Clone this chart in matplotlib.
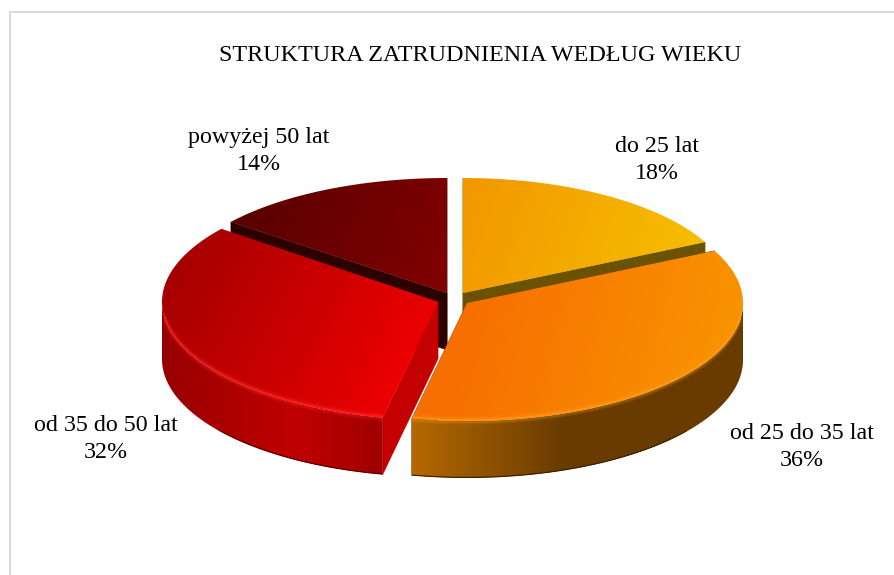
import numpy as np
import matplotlib
matplotlib.use("Agg")
import matplotlib.pyplot as plt
from matplotlib.colors import LinearSegmentedColormap
from matplotlib.patches import Polygon

plt.rcParams['font.family'] = ['Liberation Serif', 'DejaVu Serif']

title = 'STRUKTURA ZATRUDNIENIA WEDŁUG WIEKU'
categories = ['do 25 lat', 'od 25 do 35 lat', 'od 35 do 50 lat', 'powyżej 50 lat']
shares = [17.7, 35.51, 32.4, 14.39]

# layout per slice, in pixels of the figure (centre x, centre y, radius x, radius y)
centres = [(463, 293), (467, 303), (438, 302), (447, 293)]
radii = [(270, 115), (276, 118), (276, 118), (275, 115)]
label_pos = [(657, 160), (802, 447), (106, 439), (259, 151)]
depth = 57

# colours: top gradient (direction + stops), side gradient stops, cut face, rim, bottom line
top_dirs = [((470, 180), (700, 250)), ((470, 300), (720, 360)),
            ((170, 260), (430, 390)), ((240, 215), (445, 295))]
top_cols = [['#f29800', '#f6be00'], ['#f76f00', '#f99200'],
            ['#a40000', '#f40000'], ['#5a0000', '#820000']]
side_stops = [[(0, '#6b5200'), (1, '#6b5200')],
              [(0, '#b56800'), (0.45, '#6a3c00'), (1, '#693b00')],
              [(0, '#980000'), (0.6, '#c00000'), (1, '#a00000')],
              [(0, '#2d0000'), (1, '#2d0000')]]
face_cols = ['#6b5200', '#6a3c00', '#c40000', '#2d0000']
rim_cols = ['#ffc000', '#ffa020', '#ff2a2a', '#900000']
edge_cols = ['#4a3800', '#3a2000', '#5a0000', '#200000']


def point(i, deg):
    a = np.radians(deg)
    cx, cy = centres[i]
    rx, ry = radii[i]
    return cx + rx * np.sin(a), cy - ry * np.cos(a)


def gradient_fill(ax, pts, start, end, stops, zorder):
    pts = np.asarray(pts)
    x0, y0 = np.floor(pts.min(axis=0))
    x1, y1 = np.ceil(pts.max(axis=0))
    xx, yy = np.meshgrid(np.arange(x0, x1 + 1), np.arange(y0, y1 + 1))
    d = np.array(end, float) - np.array(start, float)
    t = ((xx - start[0]) * d[0] + (yy - start[1]) * d[1]) / (d @ d)
    cmap = LinearSegmentedColormap.from_list('g', stops)
    im = ax.imshow(np.clip(t, 0, 1), cmap=cmap, vmin=0, vmax=1, origin='upper',
                   extent=(x0 - .5, x1 + .5, y1 + .5, y0 - .5), aspect='auto',
                   zorder=zorder, interpolation='bilinear')
    clip = Polygon(pts, closed=True, transform=ax.transData, fc='none', ec='none')
    ax.add_patch(clip)
    im.set_clip_path(clip)
    return clip


fig = plt.figure(figsize=(8.94, 5.75), dpi=100)
ax = fig.add_axes([0, 0, 1, 1])

fracs = np.array(shares) / sum(shares) * 360
starts = np.concatenate([[0], np.cumsum(fracs)[:-1]])

# paint back to front
z = 2
for i in [3, 0, 2, 1]:
    a0, a1 = starts[i], starts[i] + fracs[i]
    angles = np.linspace(a0, a1, 200)
    cx, cy = centres[i]
    arc = np.array([point(i, a) for a in angles])

    # cut faces
    for edge in (arc[0], arc[-1]):
        ax.add_patch(Polygon([(cx, cy), edge, edge + [0, depth], (cx, cy + depth)],
                             fc=face_cols[i], ec=face_cols[i], lw=0.3, zorder=z))
    z += 1

    # outer side, only the part of the rim facing the viewer (90 to 270 degrees)
    s0, s1 = max(a0, 90), min(a1, 270)
    side_clip = None
    if s1 > s0:
        side_angles = np.linspace(s0, s1, 200)
        rim = np.array([point(i, a) for a in side_angles])
        low = rim + [0, depth]
        side = np.vstack([rim, low[::-1]])
        xmin, xmax = side[:, 0].min(), side[:, 0].max()
        side_clip = gradient_fill(ax, side, (xmin, 0), (xmax, 0), side_stops[i], z)
        z += 1

        # darker line along the bottom of the side, only in the middle part
        vis = np.cos(np.radians(side_angles)) < -0.6
        line, = ax.plot(low[vis, 0], low[vis, 1] - 0.5, color=edge_cols[i], lw=1.0, zorder=z,
                        solid_capstyle='butt')
        line.set_clip_path(side_clip)
    z += 1

    # top
    top = np.vstack([[(cx, cy)], arc])
    top_clip = gradient_fill(ax, top, top_dirs[i][0], top_dirs[i][1], top_cols[i], z)
    z += 1

    # soft rim between top and side, kept inside the slice shapes
    if side_clip is not None:
        front = np.cos(np.radians(side_angles)) < -0.12
        for off, lw, alpha in [(-2.5, 3.5, 0.14), (-1.5, 2.2, 0.28), (-0.8, 1.2, 0.5)]:
            line, = ax.plot(rim[front, 0], rim[front, 1] + off, color=rim_cols[i], lw=lw,
                            alpha=alpha, zorder=z, solid_capstyle='butt')
            line.set_clip_path(top_clip)
        for off, alpha in [(1.0, 0.25), (2.5, 0.12)]:
            line, = ax.plot(rim[front, 0], rim[front, 1] + off, color=rim_cols[i], lw=1.6,
                            alpha=alpha, zorder=z, solid_capstyle='butt')
            line.set_clip_path(side_clip)
    z += 1

for cat, share, (x, y) in zip(categories, shares, label_pos):
    ax.text(x, y, f'{cat}\n{share:.0f}%', ha='center', va='center', fontsize=17.3,
            color='black', linespacing=1.4, zorder=50)

ax.text(480, 55.5, title, ha='center', va='center', fontsize=17.4, color='black', zorder=50)

# chart frame, only top and left fall inside the crop
ax.plot([9.5, 9.5, 894], [575, 11.5, 11.5], color='#d9d9d9', lw=1.4, zorder=1)

ax.set_xlim(0, 894)
ax.set_ylim(575, 0)
ax.axis('off')
fig.savefig('out.png', dpi=100)
